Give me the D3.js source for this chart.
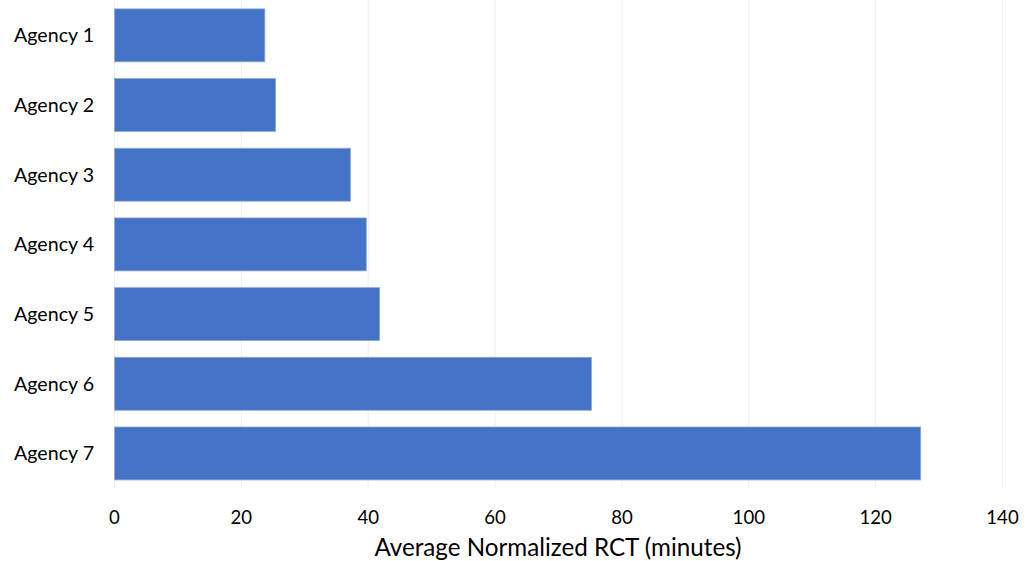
<!DOCTYPE html>
<html><head><meta charset="utf-8">
<script src="https://cdn.jsdelivr.net/npm/d3@7"></script>
<style>body{margin:0;background:#fff;} text{font-family:Lato, "Open Sans", sans-serif;fill:#000;}</style>
</head><body>
<svg id="chart" width="1026" height="561"></svg>
<script>
const categories = ["Agency 1","Agency 2","Agency 3","Agency 4","Agency 5","Agency 6","Agency 7"];
const values = [23.7, 25.4, 37.2, 39.7, 41.8, 75.2, 127.1];
const xTicks = [0,20,40,60,80,100,120,140];
const xTitle = "Average Normalized RCT (minutes)";

const svg = d3.select("#chart");
const x = d3.scaleLinear().domain([0,140]).range([114.5,1002.5]);
const y = d3.scaleBand().domain(categories).range([0.5,488.3]).paddingInner(0.24).paddingOuter(0.12);

svg.append("g").selectAll("line").data(xTicks).join("line")
  .attr("x1",d=>x(d)).attr("x2",d=>x(d)).attr("y1",0).attr("y2",488.3)
  .attr("stroke","#efefef").attr("stroke-width",1);

svg.append("g").selectAll("rect").data(values).join("rect")
  .attr("x",x(0)).attr("y",(d,i)=>y(categories[i]))
  .attr("width",d=>x(d)-x(0)).attr("height",y.bandwidth())
  .attr("fill","#4472C4").attr("stroke","#8faadc").attr("stroke-width",0.8);

svg.append("g").selectAll("text").data(categories).join("text")
  .attr("x",94).attr("y",d=>y(d)+y.bandwidth()/2).attr("dy","0.35em")
  .attr("text-anchor","end").attr("font-size","19.6px").text(d=>d);

svg.append("g").selectAll("text").data(xTicks).join("text")
  .attr("x",d=>x(d)).attr("y",517).attr("dy","0.35em")
  .attr("text-anchor","middle").attr("font-size","18.6px").text(d=>d);

svg.append("text").attr("x",558).attr("y",548).attr("dy","0.35em")
  .attr("text-anchor","middle").attr("font-size","24.2px").text(xTitle);
</script>
</body></html>
